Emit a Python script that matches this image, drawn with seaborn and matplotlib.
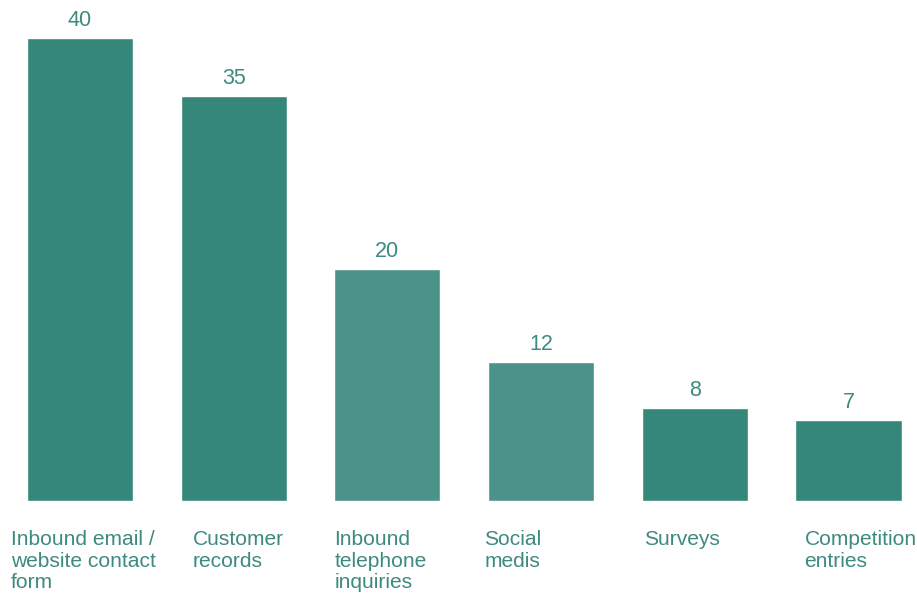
import matplotlib
matplotlib.use("Agg")
import matplotlib.pyplot as plt
import seaborn as sns
import pandas as pd

categories = [
    "Inbound email /\nwebsite contact\nform",
    "Customer\nrecords",
    "Inbound\ntelephone\ninquiries",
    "Social\nmedis",
    "Surveys",
    "Competition\nentries",
]
values = [40, 35, 20, 12, 8, 7]
bar_colors = ["#35877a", "#35877a", "#4b9388", "#4b9388", "#35877a", "#35877a"]
text_color = "#3d8a7e"

sns.set_theme(style="white")
plt.rcParams["font.family"] = ["Liberation Sans", "DejaVu Sans"]

df = pd.DataFrame({"category": categories, "value": values})

fig = plt.figure(figsize=(9.17, 5.94), dpi=100)
ax = fig.add_axes([0, 0.1574, 1, 0.8426])

sns.barplot(data=df, x="category", y="value", hue="category",
            palette=bar_colors, width=0.69, legend=False, ax=ax,
            saturation=1)

ax.set_xlim(-0.5205, 5.4457)
ax.set_ylim(0, 43.3)
ax.set_xlabel("")
ax.set_ylabel("")
ax.set_xticks([])
ax.set_yticks([])
for s in ax.spines.values():
    s.set_visible(False)

# value labels above each bar
for i, v in enumerate(values):
    ax.annotate(str(v), xy=(i, v), xytext=(0, 5), textcoords="offset points",
                ha="center", va="bottom", fontsize=15.5, color=text_color)

# category labels, left-aligned below the bars
label_shift = [-0.104, 0.078, 0.0, -0.026, 0.013, 0.059]
for i, (cat, dx) in enumerate(zip(categories, label_shift)):
    ax.annotate(cat, xy=(i - 0.345 + dx, 0), xytext=(0, -21),
                textcoords="offset points", ha="left", va="top",
                fontsize=15.1, color=text_color, linespacing=1.19,
                annotation_clip=False)

fig.savefig("out.png", dpi=100)
